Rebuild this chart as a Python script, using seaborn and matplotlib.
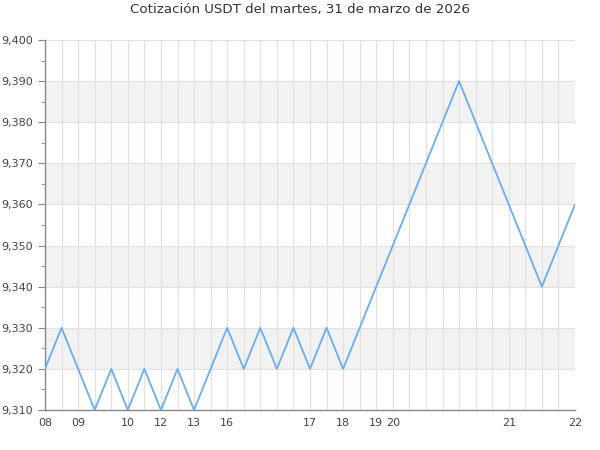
import matplotlib.pyplot as plt
import matplotlib.ticker as mticker
import pandas as pd
import seaborn as sns

TITLE = "Cotización USDT del martes, 31 de marzo de 2026"

# one value per sample
values = [
    9.320, 9.330, 9.320, 9.310, 9.320, 9.310, 9.320, 9.310, 9.320, 9.310,
    9.320, 9.330, 9.320, 9.330, 9.320, 9.330, 9.320, 9.330, 9.320, 9.330,
    9.340, 9.350, 9.360, 9.370, 9.380, 9.390, 9.380, 9.370, 9.360, 9.350,
    9.340, 9.350, 9.360,
]
# hour labels shown under some of the samples
hour_labels = {
    0: "08", 2: "09", 5: "10", 7: "12", 9: "13", 11: "16",
    16: "17", 18: "18", 20: "19", 21: "20", 28: "21", 32: "22",
}
y_min, y_max, y_step = 9.310, 9.400, 0.010

df = pd.DataFrame({"idx": range(len(values)), "valor": values})

sns.set_style("white")
plt.rcParams["font.family"] = ["DejaVu Sans"]

fig = plt.figure(figsize=(6, 4.5), dpi=100)
ax = fig.add_axes([45 / 600, 40 / 450, 530 / 600, 370 / 450])

# alternating bands
n_bands = round((y_max - y_min) / y_step)
for k in range(n_bands):
    if k % 2 == 1:
        lo = y_min + k * y_step
        ax.axhspan(lo, lo + y_step, color="#f2f2f2", zorder=0, lw=0)

sns.lineplot(data=df, x="idx", y="valor", ax=ax, color="#6aaef0", linewidth=1.3, zorder=3)

ax.set_xlim(0, len(values) - 1)
ax.set_ylim(y_min, y_max)
ax.set_xticks(range(len(values)))
ax.set_xticklabels([hour_labels.get(i, "") for i in range(len(values))])
ax.yaxis.set_major_locator(mticker.MultipleLocator(y_step))
ax.yaxis.set_minor_locator(mticker.MultipleLocator(y_step / 2))
ax.yaxis.set_major_formatter(mticker.FuncFormatter(lambda v, p: f"{v:.3f}".replace(".", ",")))

ax.grid(True, which="major", axis="both", color="#e0e0e0", linewidth=0.8, zorder=1)
ax.set_axisbelow(True)
ax.set_xlabel("")
ax.set_ylabel("")

for side in ["top", "right"]:
    ax.spines[side].set_visible(False)
for side in ["left", "bottom"]:
    ax.spines[side].set_color("#888888")
    ax.spines[side].set_linewidth(1)

ax.tick_params(axis="y", which="major", length=5, color="#888888", labelsize=8, labelcolor="#444444", left=True)
ax.tick_params(axis="y", which="minor", length=3, color="#888888", left=True)
ax.tick_params(axis="x", length=0, labelsize=8, labelcolor="#444444", pad=6)

fig.suptitle(TITLE, x=0.5, y=0.993, fontsize=9.6, color="#333333")

fig.savefig("out.png", dpi=100)
